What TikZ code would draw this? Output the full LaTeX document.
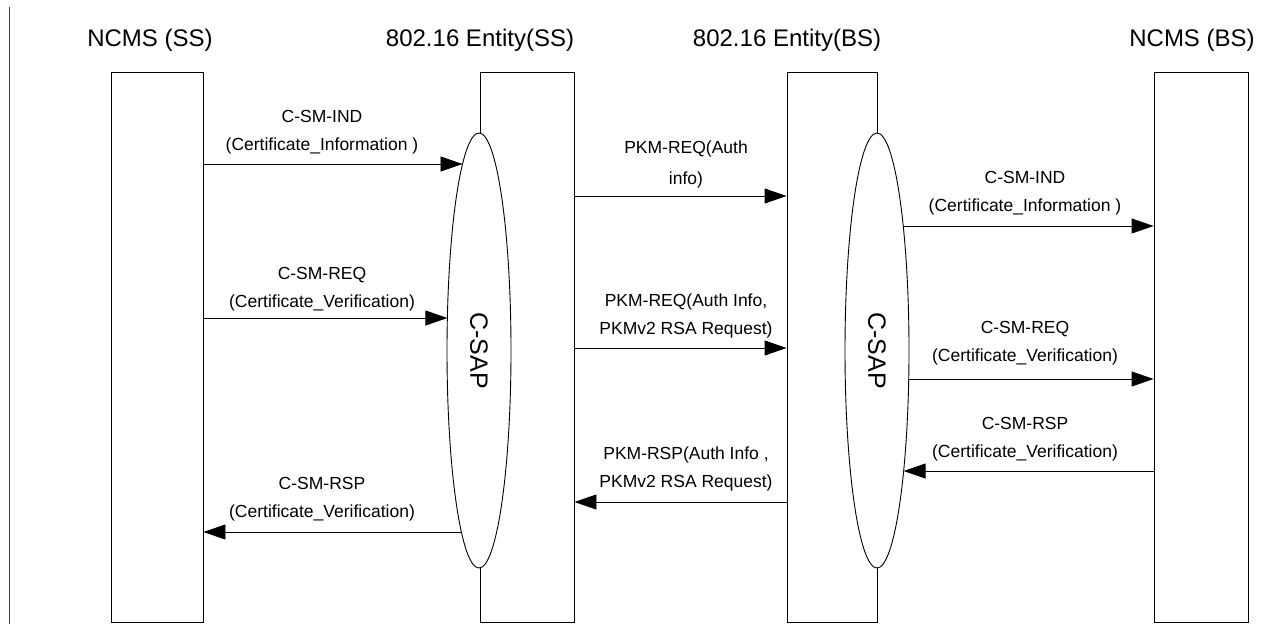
\documentclass[tikz,border=0pt]{standalone}
\usepackage{fontspec}
\setmainfont{Liberation Sans}
\usetikzlibrary{arrows.meta,shapes.geometric}
\begin{document}
\begin{tikzpicture}[x=1pt,y=-1pt,
  lane/.style={draw, line width=0.9pt, minimum height=550pt, minimum width=#1, inner sep=0pt},
  sap/.style={ellipse, draw, fill=white, line width=0.9pt, minimum width=435pt, minimum height=64pt, inner sep=0pt, rotate=-90, font=\fontsize{25}{30}\selectfont},
  title/.style={font=\fontsize{24}{28}\selectfont, inner sep=0pt},
  lbl/.style={font=\fontsize{17.5}{28}\selectfont, align=center, inner sep=0pt},
  msg/.style={line width=0.9pt, -{Triangle[length=22pt,width=15pt]}},
  frame/.style={draw=black!75, line width=0.9pt}
]
\useasboundingbox (0,0) rectangle (1273,624);
\draw[frame] (9,7) -- (9,624);

% titles
\node[title] (t1) at (150,40) {NCMS (SS)};
\node[title] (t2) at (480,40) {802.16 Entity(SS)};
\node[title] (t3) at (787,40) {802.16 Entity(BS)};
\node[title] (t4) at (1192,40) {NCMS (BS)};

% lanes
\node[lane=92pt] (b1) at (157,347) {};
\node[lane=94pt] (b2) at (527,347) {};
\node[lane=90pt] (b3) at (832,347) {};
\node[lane=94pt] (b4) at (1201,347) {};

% C-SAP ellipses
\node[sap] (e1) at (479,350.5) {C-SAP};
\node[sap] (e2) at (877,350.5) {C-SAP};

% ellipse crossing points
\coordinate (p1) at (462.5,164);
\coordinate (p2) at (447.4,318);
\coordinate (p3) at (461.4,532);
\coordinate (q1) at (903.2,226);
\coordinate (q2) at (908.7,379);
\coordinate (q3) at (903.6,471);

% left messages
\draw[msg] (b1.east |- p1) -- (p1);
\draw[msg] (b1.east |- p2) -- (p2);
\draw[msg] (p3) -- (b1.east |- p3);
\node[lbl] (l1) at (322,132) {C-SM-IND\\(Certificate\_Information )};
\node[lbl] (l2) at (322,289) {C-SM-REQ\\(Certificate\_Verification)};
\node[lbl] (l3) at (322,499.5) {C-SM-RSP\\(Certificate\_Verification)};

% middle messages
\coordinate (m1) at (0,196);
\coordinate (m2) at (0,348);
\coordinate (m3) at (0,502);
\draw[msg] (b2.east |- m1) -- (b3.west |- m1);
\draw[msg] (b2.east |- m2) -- (b3.west |- m2);
\draw[msg] (b3.west |- m3) -- (b2.east |- m3);
\node[lbl, font=\fontsize{17.5}{31}\selectfont] (n1) at (686,164.5) {PKM-REQ(Auth\\info)};
\node[lbl] (n2) at (686,316) {PKM-REQ(Auth Info,\\PKMv2 RSA Request)};
\node[lbl] (n3) at (686,469) {PKM-RSP(Auth Info ,\\PKMv2 RSA Request)};

% right messages
\draw[msg] (q1) -- (b4.west |- q1);
\draw[msg] (q2) -- (b4.west |- q2);
\draw[msg] (b4.west |- q3) -- (q3);
\node[lbl] (r1) at (1025,193.5) {C-SM-IND\\(Certificate\_Information )};
\node[lbl] (r2) at (1025,343.5) {C-SM-REQ\\(Certificate\_Verification)};
\node[lbl] (r3) at (1025,439) {C-SM-RSP\\(Certificate\_Verification)};
\end{tikzpicture}
\end{document}
